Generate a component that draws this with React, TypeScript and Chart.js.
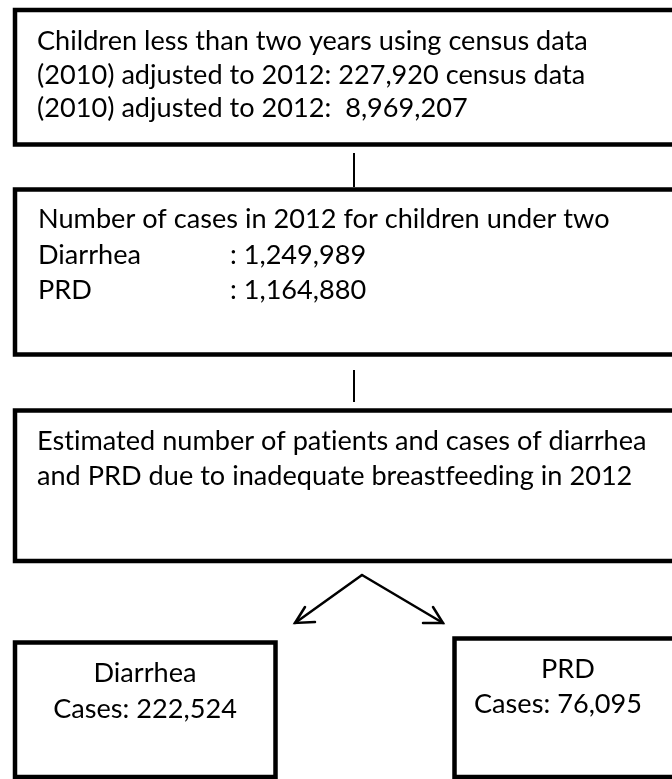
import React, { useEffect, useRef } from "react";
import { Chart, registerables } from "chart.js";

Chart.register(...registerables);

// ---- data (texts and values) ----
const censusPopulation = [227920, 8969207];
const caseCategories = ["Diarrhea", "PRD"];
const casesUnderTwo2012 = [1249989, 1164880];
const attributableCases = [222524, 76095];
const fmt = (v: number) => v.toLocaleString("en-US");

const box1Lines = [
  "Children less than two years using census data",
  `(2010) adjusted to 2012: ${fmt(censusPopulation[0])} census data`,
  `(2010) adjusted to 2012:  ${fmt(censusPopulation[1])}`,
];
const box2Title = "Number of cases in 2012 for children under two";
const box3Lines = [
  "Estimated number of patients and cases of diarrhea",
  "and PRD due to inadequate breastfeeding in 2012",
];

// ---- layout (diagram units; scales map them to pixels) ----
const W = 672;
const H = 779;
const boxes = [
  { l: 15, t: 10, r: 700, b: 144.5 },
  { l: 15, t: 189.5, r: 700, b: 354.5 },
  { l: 15, t: 410.5, r: 700, b: 561 },
  { l: 15, t: 642.5, r: 275.5, b: 777 },
  { l: 454.5, t: 638.5, r: 700, b: 777 },
];
const connectors = [
  { x: 354, y1: 153, y2: 187 },
  { x: 354, y1: 370, y2: 402 },
];
const arrowApex = { x: 362, y: 575 };
const arrowTips = [
  { x: 295, y: 623, w1: { x: 305, y: 607 }, w2: { x: 315, y: 622 } },
  { x: 443, y: 623, w1: { x: 433, y: 607 }, w2: { x: 423, y: 623 } },
];

const FONT_FAMILY = "Lato, 'Open Sans', sans-serif";

const flowPlugin = {
  id: "flow",
  beforeDraw(chart: any) {
    const { ctx, width, height } = chart;
    ctx.save();
    ctx.fillStyle = "#ffffff";
    ctx.fillRect(0, 0, width, height);
    ctx.restore();
  },
  afterDraw(chart: any) {
    const ctx: any = chart.ctx;
    const xs = chart.scales.x;
    const ys = chart.scales.y;
    const px = (v: number) => xs.getPixelForValue(v);
    const py = (v: number) => ys.getPixelForValue(v);

    ctx.save();
    // boxes
    ctx.strokeStyle = "#000";
    ctx.lineWidth = 4.5;
    ctx.lineJoin = "miter";
    boxes.forEach((b) => {
      ctx.strokeRect(px(b.l), py(b.t), px(b.r) - px(b.l), py(b.b) - py(b.t));
    });

    // connectors
    ctx.lineWidth = 2;
    connectors.forEach((c) => {
      ctx.beginPath();
      ctx.moveTo(px(c.x), py(c.y1));
      ctx.lineTo(px(c.x), py(c.y2));
      ctx.stroke();
    });

    // arrows
    ctx.lineWidth = 2.5;
    ctx.lineCap = "round";
    arrowTips.forEach((a) => {
      ctx.beginPath();
      ctx.moveTo(px(arrowApex.x), py(arrowApex.y));
      ctx.lineTo(px(a.x), py(a.y));
      ctx.stroke();
      ctx.beginPath();
      ctx.moveTo(px(a.w1.x), py(a.w1.y));
      ctx.lineTo(px(a.x), py(a.y));
      ctx.lineTo(px(a.w2.x), py(a.w2.y));
      ctx.stroke();
    });

    // font fit (letter spacing disables ligatures)
    ctx.letterSpacing = "0.01px";
    ctx.font = `24px ${FONT_FAMILY}`;
    const m = ctx.measureText(box1Lines[0]).width;
    const size = (24 * 551) / m;
    ctx.font = `${size.toFixed(2)}px ${FONT_FAMILY}`;
    ctx.fillStyle = "#000";
    ctx.textBaseline = "alphabetic";

    const text = (s: string, x: number, y: number, align: CanvasTextAlign = "left") => {
      ctx.textAlign = align;
      ctx.fillText(s, px(x), py(y));
    };

    // box 1
    const b1y = [50, 84, 117];
    box1Lines.forEach((s, i) => text(s, 37, b1y[i]));

    // box 2
    text(box2Title, 38, 228);
    const b2y = [264, 299];
    caseCategories.forEach((c, i) => {
      text(c, 38, b2y[i]);
      text(`: ${fmt(casesUnderTwo2012[i])}`, 230, b2y[i]);
    });

    // box 3
    const b3y = [450, 485];
    box3Lines.forEach((s, i) => text(s, 37, b3y[i]));

    // box 4
    text(caseCategories[0], 145, 682, "center");
    text(`Cases: ${fmt(attributableCases[0])}`, 145, 718, "center");

    // box 5
    text(caseCategories[1], 568, 678, "center");
    text(`Cases: ${fmt(attributableCases[1])}`, 558, 713, "center");

    ctx.restore();
  },
};

export default function App() {
  const ref = useRef<HTMLCanvasElement | null>(null);
  useEffect(() => {
    if (!ref.current) return;
    const chart = new Chart(ref.current, {
      type: "scatter",
      data: { datasets: [{ data: [], pointRadius: 0 }] },
      options: {
        animation: false,
        responsive: false,
        maintainAspectRatio: false,
        layout: { padding: 0 },
        events: [],
        scales: {
          x: { type: "linear", min: 0, max: W, display: false },
          y: { type: "linear", min: 0, max: H, reverse: true, display: false },
        },
        plugins: {
          legend: { display: false },
          tooltip: { enabled: false },
          title: { display: false },
        },
      },
      plugins: [flowPlugin],
    });
    return () => chart.destroy();
  }, []);
  return (
    <div style={{ position: "fixed", left: 0, top: 0, width: W, height: H, background: "#fff" }}>
      <canvas ref={ref} width={W} height={H} style={{ display: "block", width: W, height: H }} />
    </div>
  );
}
